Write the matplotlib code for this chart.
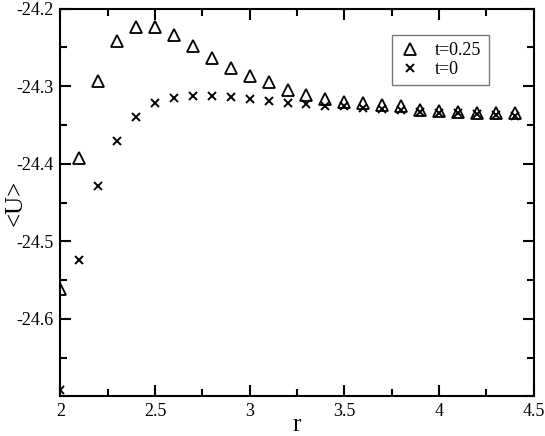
import matplotlib
matplotlib.use("Agg")
import matplotlib.pyplot as plt
from matplotlib.ticker import MultipleLocator, FuncFormatter

# values
r = [2.0, 2.1, 2.2, 2.3, 2.4, 2.5, 2.6, 2.7, 2.8, 2.9, 3.0, 3.1, 3.2,
     3.3, 3.4, 3.5, 3.6, 3.7, 3.8, 3.9, 4.0, 4.1, 4.2, 4.3, 4.4]
u_t025 = [-24.561, -24.392, -24.293, -24.242, -24.223, -24.223, -24.234,
          -24.248, -24.263, -24.277, -24.287, -24.295, -24.305, -24.311,
          -24.317, -24.320, -24.322, -24.324, -24.326, -24.331, -24.332,
          -24.333, -24.334, -24.334, -24.335]
u_t0 = [-24.692, -24.524, -24.428, -24.371, -24.339, -24.322, -24.315,
        -24.313, -24.313, -24.314, -24.316, -24.319, -24.321, -24.323,
        -24.325, -24.326, -24.328, -24.329, -24.330, -24.333, -24.334,
        -24.335, -24.336, -24.337, -24.338]

plt.rcParams["font.family"] = ["Liberation Serif", "DejaVu Serif"]
plt.rcParams["axes.unicode_minus"] = False

fig = plt.figure(figsize=(5.45, 4.36), dpi=100)
ax = fig.add_axes([0.1106, 0.0906, 0.8687, 0.8894])

ax.plot(r, u_t025, ls="none", marker="^", ms=8, mfc="none", mec="black",
        mew=1.3, label="t=0.25")
ax.plot(r, u_t0, ls="none", marker="x", ms=6, color="black", mew=1.4,
        label="t=0")

ax.set_xlim(2, 4.5)
ax.set_ylim(-24.7, -24.2)
ax.xaxis.set_major_locator(MultipleLocator(0.5))
ax.xaxis.set_minor_locator(MultipleLocator(0.25))
ax.yaxis.set_major_locator(MultipleLocator(0.1))
ax.yaxis.set_minor_locator(MultipleLocator(0.05))
ax.xaxis.set_major_formatter(FuncFormatter(lambda v, p: f"{v:g}"))
# bottom -24.7 is not labelled in the reference
ax.yaxis.set_major_formatter(
    FuncFormatter(lambda v, p: "" if v < -24.65 else f"{v:.1f}"))
ax.tick_params(which="both", direction="in", top=True, right=True,
               width=1.5, labelsize=13, pad=5)
ax.tick_params(which="major", length=8)
ax.tick_params(which="minor", length=5)
for s in ax.spines.values():
    s.set_linewidth(1.5)

ax.set_xlabel("r", fontsize=18)
ax.set_ylabel("<U>", fontsize=18)
ax.xaxis.set_label_coords(0.5, -0.045)
ax.yaxis.set_label_coords(-0.07, 0.5)

leg = ax.legend(loc="upper left", bbox_to_anchor=(0.70, 0.932),
                borderaxespad=0, fontsize=13, fancybox=False,
                handlelength=1.2, handletextpad=0.8, labelspacing=0.1,
                borderpad=0.4)
leg.get_frame().set_edgecolor("#555555")
leg.get_frame().set_linewidth(1.0)

fig.savefig("out.png", dpi=100)
